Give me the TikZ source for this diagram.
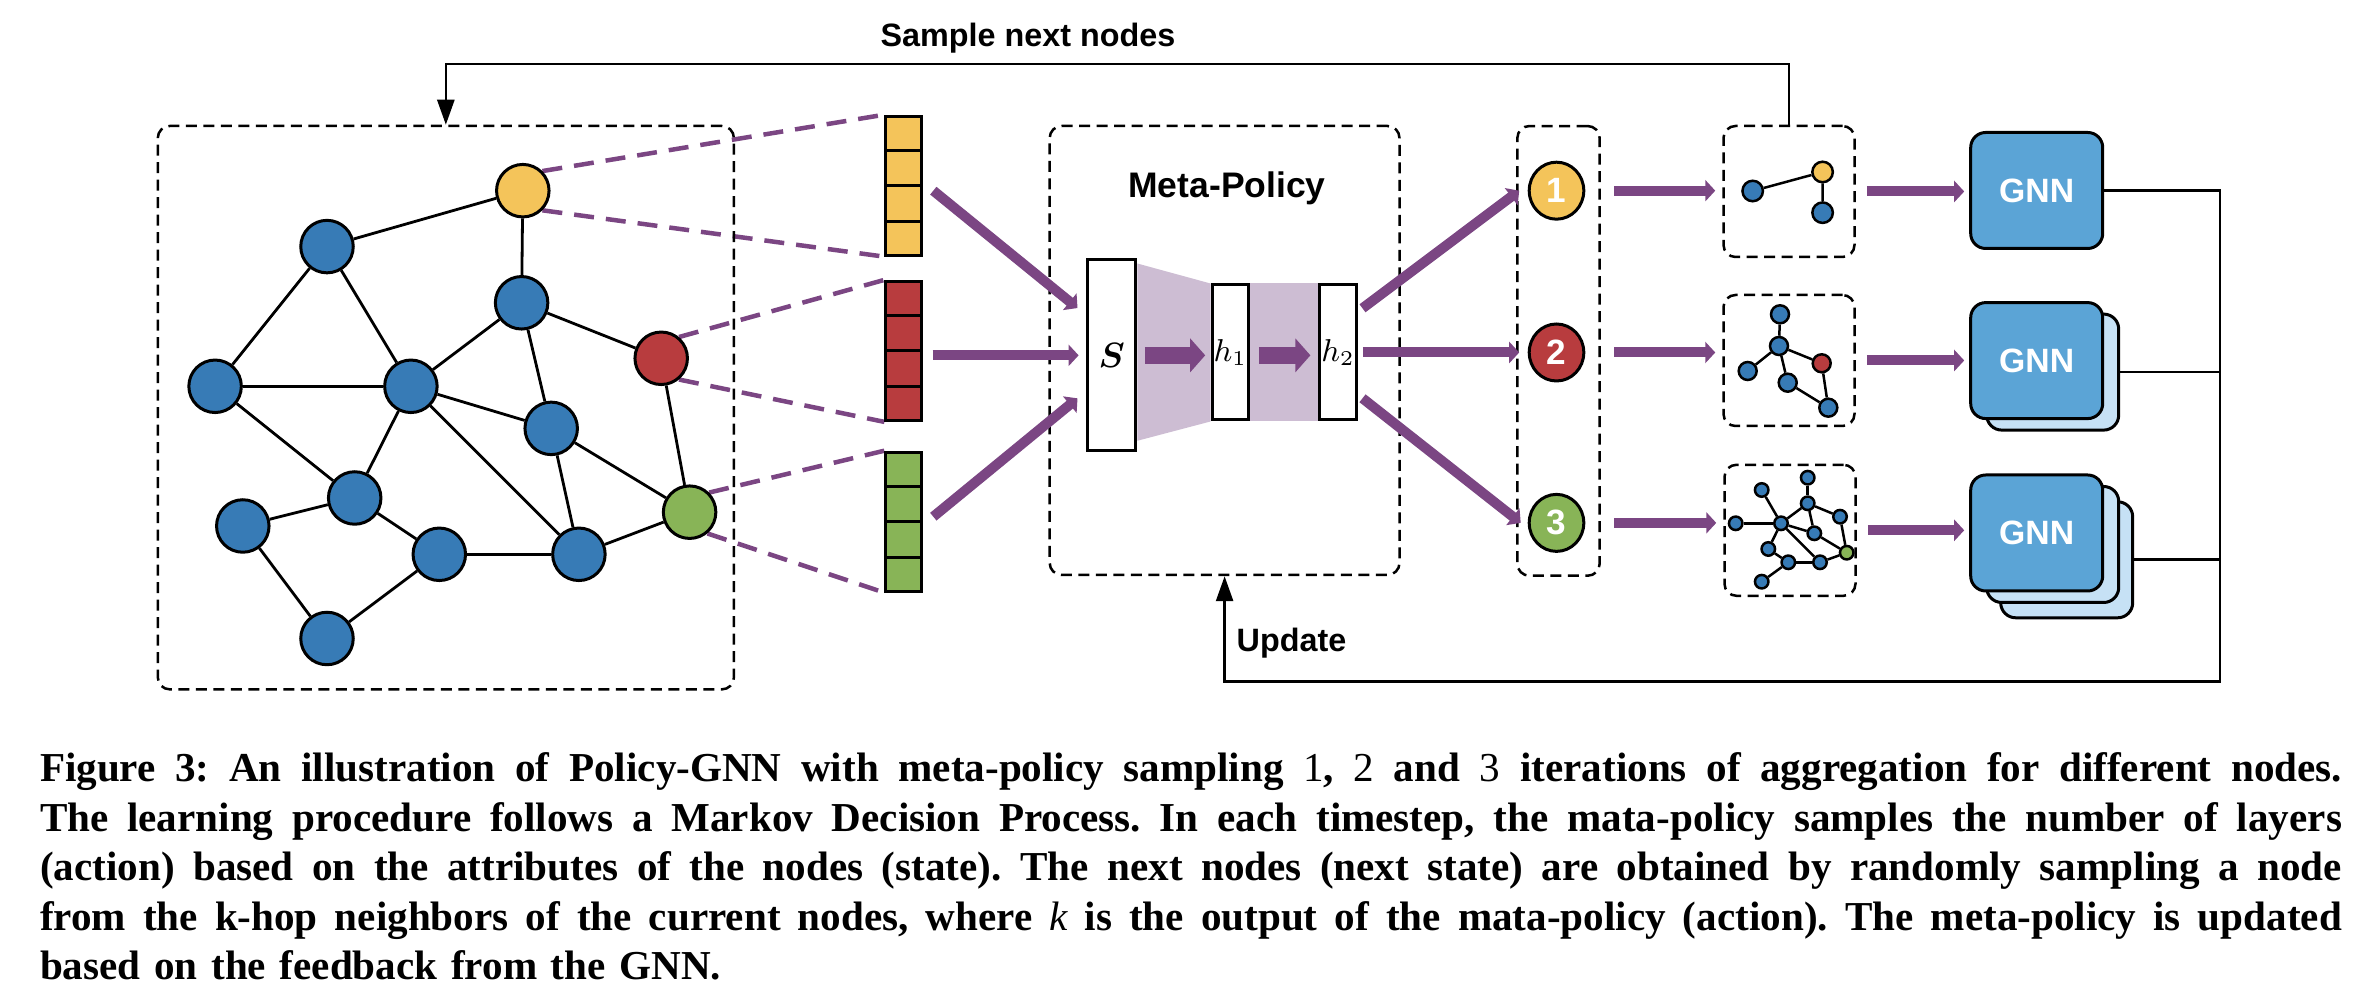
\documentclass[tikz,border=0pt]{standalone}
\usepackage{amsmath}
\usepackage{fontspec}
\setmainfont{Liberation Serif}
\newfontfamily\lsans{Liberation Sans}
\usetikzlibrary{arrows.meta,calc,shapes.geometric}
\definecolor{nblue}{RGB}{55,123,182}
\definecolor{nyellow}{RGB}{244,196,90}
\definecolor{nred}{RGB}{184,60,62}
\definecolor{ngreen}{RGB}{136,180,87}
\definecolor{ppl}{RGB}{123,70,131}
\definecolor{shadep}{RGB}{205,189,211}
\definecolor{gnnblue}{RGB}{91,164,214}
\definecolor{gnnback}{RGB}{198,225,245}
\newlength\capw
\setlength\capw{230.2mm}
\newcommand\capline[1]{\noindent\hbox to \capw{\spaceskip=0.25em plus 2em minus 0.05em\relax #1}}
\pgfdeclarelayer{bg}
\pgfsetlayers{bg,main}
\tikzset{
  gnode/.style={circle, draw=black, line width=0.3mm, minimum size=5.25mm, inner sep=0pt},
  gedge/.style={line width=0.28mm},
  sedge/.style={line width=0.25mm},
  snode/.style={circle, draw=black, line width=0.25mm, inner sep=0pt, fill=nblue},
  dbox/.style={draw=black, line width=0.25mm, dash pattern=on 1.1mm off 0.65mm, rounded corners=1.2mm, inner sep=0pt},
  vecbox/.style={draw=black, line width=0.3mm, minimum width=3.56mm, minimum height=13.9mm, inner sep=0pt},
  pdash/.style={draw=ppl, line width=0.45mm, dash pattern=on 2mm off 1.2mm},
  parrow/.style={draw=ppl, line width=1mm, -{Triangle[length=1mm,width=2.1mm]}},
  pfat/.style={draw=ppl, line width=1.67mm, -{Triangle[length=1.5mm,width=3.3mm]}},
  layerbox/.style={draw=black, fill=white, line width=0.3mm, inner sep=0pt, font=\fontsize{9.6}{12}\selectfont},
  numc/.style={ellipse, draw=black, line width=0.3mm, minimum width=5.46mm, minimum height=5.7mm, inner sep=0pt, text=white, font=\lsans\bfseries\fontsize{10}{12}\selectfont},
  gnnbox/.style={draw=black, line width=0.3mm, rounded corners=1.5mm, minimum width=13.2mm, minimum height=11.6mm, inner sep=0pt, fill=gnnblue, text=white, font=\lsans\bfseries\fontsize{9.6}{11}\selectfont},
  gnnback/.style={gnnbox, fill=gnnback},
  conn/.style={draw=black, line width=0.27mm},
  lab/.style={inner sep=0pt, font=\lsans\bfseries\fontsize{9.2}{11}\selectfont},
  blackarrow/.style={-{Triangle[length=2.5mm,width=1.7mm]}}
}
\begin{document}
\begin{tikzpicture}[x=0.1mm, y=-0.1mm]
\useasboundingbox (0,0) rectangle (2370,1002);

% ---------- big graph ----------
\node[dbox, minimum width=57.61mm, minimum height=56.34mm] (gbox) at (445.85,407.7) {};
\node[gnode, fill=nyellow] (Y) at (522.8,190.7) {};
\node[gnode, fill=nblue] (A) at (327.0,246.6) {};
\node[gnode, fill=nblue] (B) at (521.6,302.8) {};
\node[gnode, fill=nred] (R) at (661.2,358.3) {};
\node[gnode, fill=nblue] (C) at (215.1,386.3) {};
\node[gnode, fill=nblue] (D) at (410.9,386.3) {};
\node[gnode, fill=nblue] (E) at (551.2,428.4) {};
\node[gnode, fill=ngreen] (Gr) at (689.6,512.2) {};
\node[gnode, fill=nblue] (F) at (354.7,498) {};
\node[gnode, fill=nblue] (G) at (242.8,526) {};
\node[gnode, fill=nblue] (H) at (439.3,554.3) {};
\node[gnode, fill=nblue] (I) at (578.9,554.3) {};
\node[gnode, fill=nblue] (J) at (327.0,638.5) {};
\begin{pgfonlayer}{bg}
\foreach \a/\b in {Y/A,Y/B,A/C,A/D,C/D,B/D,B/R,B/E,D/E,D/F,C/F,D/I,E/I,E/Gr,R/Gr,Gr/I,F/G,F/H,H/I,G/J,J/H}
  \draw[gedge] (\a) -- (\b);
\end{pgfonlayer}

% ---------- feature vectors ----------
\node[vecbox, fill=nyellow] (vy) at (903.7,185.7) {};
\node[vecbox, fill=nred] (vr) at (903.7,350.9) {};
\node[vecbox, fill=ngreen] (vg) at (903.7,521.7) {};
\foreach \v in {vy,vr,vg}
  \foreach \f in {0.25,0.5,0.75}
    \draw[line width=0.3mm] ($(\v.north west)!\f!(\v.south west)$) -- ($(\v.north east)!\f!(\v.south east)$);
\begin{pgfonlayer}{bg}
\draw[pdash] (Y.45) -- (vy.north west);
\draw[pdash] (Y.-45) -- (vy.south west);
\draw[pdash] (R.50) -- (vr.north west);
\draw[pdash] (R.-50) -- (vr.south west);
\draw[pdash] (Gr.45) -- (vg.north west);
\draw[pdash] (Gr.-50) -- (vg.south west);
\end{pgfonlayer}

% ---------- meta policy ----------
\node[dbox, minimum width=34.98mm, minimum height=44.9mm] (meta) at (1224.6,350.5) {};
\node[lab, anchor=base, font=\lsans\bfseries\fontsize{10.1}{12}\selectfont] (mptitle) at (1227,197.3) {Meta-Policy};
\node[layerbox, minimum width=4.82mm, minimum height=19.07mm] (S) at (1111.7,355.35) {$\boldsymbol{S}$};
\node[layerbox, minimum width=3.67mm, minimum height=13.5mm, font=\fontsize{8.8}{11}\selectfont] (h1) at (1230.35,352.5) {$h_1$};
\node[layerbox, minimum width=3.67mm, minimum height=13.5mm, font=\fontsize{8.8}{11}\selectfont] (h2) at (1338.05,352.5) {$h_2$};
\begin{pgfonlayer}{bg}
\fill[shadep] ($(S.north east)+(0,5)$) -- (h1.north west) -- (h1.south west) -- ($(S.south east)+(0,-11.4)$) -- cycle;
\fill[shadep] (h1.north east) rectangle (h2.south west);
\end{pgfonlayer}
\draw[pfat] ($(S.east)+(7.5,0)$) -- ($(S.east -| h1.west)+(-5.3,0)$);
\draw[pfat] ($(S.east -| h1.east)+(8.6,0)$) -- ($(S.east -| h2.west)+(-7.8,0)$);

% inputs to S
\draw[parrow] ($(vy.east)+(10.3,5)$) -- ($(S.west)+(-8.6,-47.3)$);
\draw[parrow] ($(S.west -| vr.east)+(9.5,0)$) -- ($(S.west)+(-7.5,0)$);
\draw[parrow] ($(vg.east)+(10.3,-5)$) -- ($(S.west)+(-8.6,43)$);

% ---------- numbered circles ----------
\node[dbox, minimum width=8.23mm, minimum height=44.97mm] (nbox) at (1558.5,350.9) {};
\node[numc, fill=nyellow] (c1) at (1556.5,190.7) {1};
\node[numc, fill=nred] (c2) at (1556.5,352.5) {2};
\node[numc, fill=ngreen] (c3) at (1556.5,522.9) {3};
\draw[parrow] ($(h2.east)+(4.6,-44.2)$) -- ($(c1.west)+(-8.5,0)$);
\draw[parrow] ($(h2.east)+(5,0)$) -- ($(c2.west)+(-8.5,0)$);
\draw[parrow] ($(h2.east)+(4.6,45.8)$) -- ($(c3.west)+(-7,0)$);

% ---------- sampled subgraphs ----------
\node[dbox, minimum size=13.1mm] (sb1) at (1789,191.5) {};
\node[dbox, minimum size=13.1mm] (sb2) at (1789,360.5) {};
\node[dbox, minimum size=13.1mm] (sb3) at (1790,530.3) {};
\foreach \i in {1,2,3}{
  \draw[parrow] ($(c\i.east)+(29,0)$) -- ($(c\i.east -| sb\i.west)+(-7,0)$);
}

% subgraph 1
\node[snode, minimum size=2.05mm] (pa) at (1752.7,191) {};
\node[snode, minimum size=2.05mm, fill=nyellow] (py) at (1822.6,172) {};
\node[snode, minimum size=2.05mm] (pb) at (1822.6,212.7) {};
\begin{pgfonlayer}{bg}
\draw[sedge] (pa) -- (py) -- (pb);
\end{pgfonlayer}

% subgraph 2
\node[snode, minimum size=1.8mm] (qa) at (1780,314.3) {};
\node[snode, minimum size=1.8mm] (qb) at (1779,346) {};
\node[snode, minimum size=1.8mm] (qc) at (1747.7,371) {};
\node[snode, minimum size=1.8mm, fill=nred] (qr) at (1821.7,363.3) {};
\node[snode, minimum size=1.8mm] (qd) at (1787.7,382.7) {};
\node[snode, minimum size=1.8mm] (qe) at (1828.3,407.7) {};
\begin{pgfonlayer}{bg}
\foreach \a/\b in {qa/qb,qb/qc,qb/qr,qb/qd,qd/qe,qr/qe}
  \draw[sedge] (\a) -- (\b);
\end{pgfonlayer}

% subgraph 3
\node[snode, minimum size=1.35mm] (r1) at (1807.7,477.7) {};
\node[snode, minimum size=1.35mm] (r2) at (1761.7,490) {};
\node[snode, minimum size=1.35mm] (r3) at (1807.7,503.3) {};
\node[snode, minimum size=1.35mm] (r4) at (1840,516.7) {};
\node[snode, minimum size=1.35mm] (r5) at (1735.7,523.3) {};
\node[snode, minimum size=1.35mm] (r6) at (1781,523.3) {};
\node[snode, minimum size=1.35mm] (r7) at (1814.3,533.3) {};
\node[snode, minimum size=1.35mm, fill=ngreen] (r8) at (1846.7,552.7) {};
\node[snode, minimum size=1.35mm] (r9) at (1768.3,549) {};
\node[snode, minimum size=1.35mm] (r10) at (1788.3,562.3) {};
\node[snode, minimum size=1.35mm] (r11) at (1820,562.3) {};
\node[snode, minimum size=1.35mm] (r12) at (1761.7,581.7) {};
\begin{pgfonlayer}{bg}
\foreach \a/\b in {r1/r3,r2/r6,r5/r6,r6/r3,r3/r4,r3/r7,r6/r7,r6/r11,r7/r8,r4/r8,r6/r9,r9/r10,r10/r11,r11/r8,r10/r12}
  \draw[sedge] (\a) -- (\b);
\end{pgfonlayer}

% ---------- GNN boxes ----------
\node[gnnbox] (g1) at (2036.7,190.5) {GNN};
\node[gnnback] (g2b) at (2052.7,372.1) {};
\node[gnnbox] (g2) at (2036.7,360.6) {GNN};
\node[gnnback] (g3c) at (2066.7,559.8) {};
\node[gnnback] (g3b) at (2052.7,544.5) {};
\node[gnnbox] (g3) at (2036.7,533) {GNN};
\draw[parrow] ($(sb1.east)+(11,0)$) -- ($(sb1.east -| g1.west)+(-5,0)$);
\draw[parrow] ($(sb2.east)+(11,0)$) -- ($(sb2.east -| g2.west)+(-5,0)$);
\draw[parrow] ($(sb3.east)+(11,0)$) -- ($(sb3.east -| g3.west)+(-5,0)$);

% ---------- feedback ----------
\coordinate (fbtop) at (2220,190.5);
\coordinate (fbbot) at (2220,681.7);
\draw[conn, blackarrow] (g1.east) -- (fbtop) -- (fbbot) -- (fbbot -| meta.south) -- (meta.south);
\draw[conn] (g2b.east) -- (g2b.east -| fbtop);
\draw[conn] (g3c.east) -- (g3c.east -| fbtop);
\node[lab, anchor=base west] (upd) at (1236,651.7) {Update};

% ---------- sample next nodes ----------
\coordinate (toprow) at (0,64);
\draw[conn, blackarrow] (sb1.north) -- (sb1.north |- toprow) -- (gbox.north |- toprow) -- (gbox.north);
\node[lab, anchor=base] (sample) at (1028,46.7) {Sample next nodes};

% ---------- caption ----------
\node[anchor=base west, inner sep=0pt, text width=230.2mm, font=\fontsize{11.7}{14.1}\selectfont\bfseries\frenchspacing] (cap) at (39.3,781.7) {%
\capline{Figure 3: An illustration of Policy-GNN with meta-policy sampling {\mdseries 1}, {\mdseries 2} and {\mdseries 3} iterations of aggregation for different nodes.}\\
\capline{The learning procedure follows a Markov Decision Process. In each timestep, the mata-policy samples the number of layers}\\
\capline{(action) based on the attributes of the nodes (state). The next nodes (next state) are obtained by randomly sampling a node}\\
\capline{from the k-hop neighbors of the current nodes, where {\mdseries\itshape k} is the output of the mata-policy (action). The meta-policy is updated}\\
\noindent based on the feedback from the GNN.};
\end{tikzpicture}
\end{document}
